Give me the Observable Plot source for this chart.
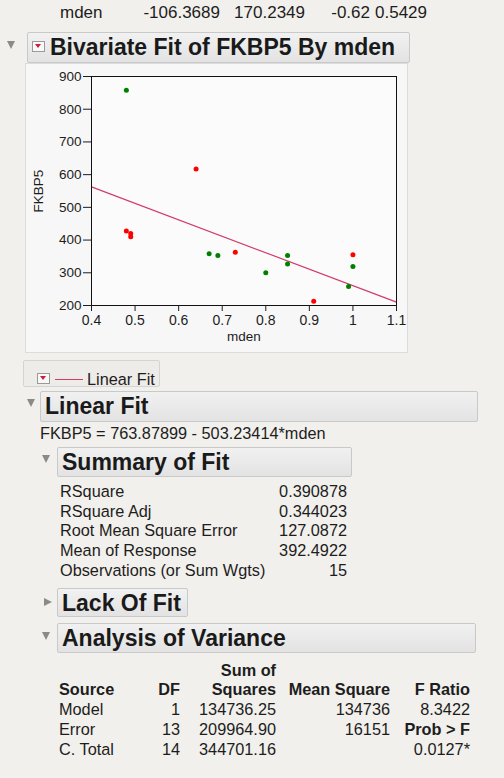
<!DOCTYPE html>
<html>
<head>
<meta charset="utf-8">
<script src="https://cdn.jsdelivr.net/npm/d3@7"></script>
<script src="https://cdn.jsdelivr.net/npm/@observablehq/plot@0.6"></script>
<style>
  html, body { margin: 0; padding: 0; }
  body { width: 504px; height: 778px; background: #f2f0ec; position: relative; overflow: hidden;
         font-family: "Liberation Sans", Arial, Helvetica, sans-serif; color: #1d1d1d; }
  .abs { position: absolute; white-space: nowrap; }
  .hdr { position: absolute; box-sizing: border-box; border: 1px solid #c9c9c9; border-radius: 2px;
         background: linear-gradient(#f1f1f1, #e3e3e3); }
  .hdr span { position: absolute; font-weight: bold; font-size: 23px; line-height: 1; top: 3px; left: 4px; color: #1a1a1a; }
  .tri { position: absolute; width: 0; height: 0; }
  .down { border-left: 4px solid transparent; border-right: 4px solid transparent; border-top: 8px solid #8a8a8a; }
  .right { border-top: 4px solid transparent; border-bottom: 4px solid transparent; border-left: 8px solid #8a8a8a; }
  .menu { position: absolute; width: 13px; height: 11px; box-sizing: border-box; border: 1px solid #9a9a9a;
          background: #f8f8f8; }
  .menu::after { content: ""; position: absolute; left: 2px; top: 2px; border-left: 3.5px solid transparent;
          border-right: 3.5px solid transparent; border-top: 4px solid #d01c3c; }
  .t { position: absolute; font-size: 16.3px; line-height: 1; white-space: nowrap; }
  .r { text-align: right; }
  .b { font-weight: bold; }
  #panel { position: absolute; left: 25px; top: 63px; width: 383px; height: 290px; box-sizing: border-box;
           border: 1px solid #dcdcdc; background: #f7f7f7; }
  #chart { position: absolute; left: 25px; top: 63px; }
</style>
</head>
<body>
<!-- top row (partially cut) -->
<div class="t" style="left:60px; top:4px; font-size:17px;">mden</div>
<div class="t r" style="left:120px; width:100px; top:4px; font-size:17px;">-106.3689</div>
<div class="t r" style="left:205px; width:100px; top:4px; font-size:17px;">170.2349</div>
<div class="t r" style="left:300px; width:70px; top:4px; font-size:17px;">-0.62</div>
<div class="t r" style="left:357px; width:70px; top:4px; font-size:17px;">0.5429</div>

<!-- Bivariate header -->
<div class="tri down" style="left:7px; top:41px;"></div>
<div class="hdr" style="left:27px; top:32px; width:383px; height:31px;"><span style="left:22px;">Bivariate Fit of FKBP5 By mden</span></div>
<div class="menu" style="left:32px; top:41px;"></div>

<div id="panel"></div>
<div id="chart"></div>

<!-- legend -->
<div class="hdr" style="left:23px; top:360px; width:137px; height:27px; background:#eeece9; border-color:#d4d4d4;"></div>
<div class="menu" style="left:37px; top:373px;"></div>
<div class="abs" style="left:55px; top:379px; width:28px; height:0; border-top:1.2px solid #d23c68;"></div>
<div class="t" style="left:87px; top:371px;">Linear Fit</div>

<!-- Linear Fit header -->
<div class="tri down" style="left:27px; top:399px;"></div>
<div class="hdr" style="left:40px; top:391px; width:438px; height:31px;"><span>Linear Fit</span></div>
<div class="t" style="left:40px; top:425px;">FKBP5 = 763.87899 - 503.23414*mden</div>

<!-- Summary of Fit -->
<div class="tri down" style="left:42px; top:455px;"></div>
<div class="hdr" style="left:57px; top:447px; width:295px; height:30px;"><span>Summary of Fit</span></div>
<div id="summary"></div>

<!-- Lack Of Fit -->
<div class="tri right" style="left:44px; top:598px;"></div>
<div class="hdr" style="left:57px; top:588px; width:131px; height:29px;"><span>Lack Of Fit</span></div>

<!-- Analysis of Variance -->
<div class="tri down" style="left:42px; top:632px;"></div>
<div class="hdr" style="left:57px; top:623px; width:419px; height:30px;"><span>Analysis of Variance</span></div>
<div id="anova"></div>

<script>
// ---- scatter data ----
const mdenRed   = [0.64, 0.48, 0.49, 0.49, 0.73, 0.91, 1.00];
const fkbp5Red  = [617, 428, 420, 410, 363, 213, 355];
const mdenGreen = [0.48, 0.67, 0.69, 0.80, 0.85, 0.85, 0.99, 1.00];
const fkbp5Green= [858, 358, 353, 300, 353, 327, 258, 319];

// ---- fit coefficients ----
const intercept = 763.87899;
const slope = -503.23414;
const xDomain = [0.4, 1.1];
const yDomain = [200, 900];
const xTicks = [0.4, 0.5, 0.6, 0.7, 0.8, 0.9, 1.0, 1.1];
const yTicks = [200, 300, 400, 500, 600, 700, 800, 900];

// ---- summary of fit ----
const summaryLabels = ["RSquare", "RSquare Adj", "Root Mean Square Error", "Mean of Response", "Observations (or Sum Wgts)"];
const summaryValues = ["0.390878", "0.344023", "127.0872", "392.4922", "15"];

// ---- analysis of variance ----
const anovaSource = ["Model", "Error", "C. Total"];
const anovaDF = ["1", "13", "14"];
const anovaSS = ["134736.25", "209964.90", "344701.16"];
const anovaMS = ["134736", "16151", ""];
const anovaF = ["8.3422", "Prob > F", "0.0127*"];

const pts = [
  ...mdenRed.map((x, i) => ({x, y: fkbp5Red[i], g: "red"})),
  ...mdenGreen.map((x, i) => ({x, y: fkbp5Green[i], g: "green"}))
];
const fit = xDomain.map(x => ({x, y: intercept + slope * x}));

const chart = Plot.plot({
  width: 383, height: 290,
  marginLeft: 66, marginRight: 12, marginTop: 13, marginBottom: 48,
  style: {fontFamily: "Liberation Sans, Arial, sans-serif", fontSize: "13px", color: "#1d1d1d", background: "transparent"},
  x: {domain: xDomain, label: null},
  y: {domain: yDomain, label: null},
  color: {domain: ["red", "green"], range: ["#c4175c", "#168a58"]},
  marks: [
    Plot.frame({fill: "#fbfbfb"}),
    Plot.line(fit, {x: "x", y: "y", stroke: "#d23c68", strokeWidth: 1.2}),
    Plot.dot(pts, {x: "x", y: "y", fill: "g", r: 2.5}),
    Plot.frame({stroke: "#111", strokeWidth: 1}),
    Plot.axisX({ticks: xTicks, tickFormat: d => String(+d.toFixed(1)), tickSize: 6, tickPadding: 4, fontSize: 14, label: null}),
    Plot.axisY({ticks: yTicks, tickSize: 8, tickPadding: 2, fontSize: 13.5, label: null}),
    Plot.text(["mden"], {frameAnchor: "bottom", dy: 35, fontSize: 13.5}),
    Plot.text(["FKBP5"], {frameAnchor: "left", dx: -53, rotate: -90, textAnchor: "middle", fontSize: 13.5})
  ]
});
document.getElementById("chart").appendChild(chart);

// summary rows
const sEl = document.getElementById("summary");
summaryLabels.forEach((lab, i) => {
  const top = 483 + i * 19.7;
  sEl.insertAdjacentHTML("beforeend",
    `<div class="t" style="left:60px; top:${top}px;">${lab}</div>` +
    `<div class="t r" style="left:247px; width:100px; top:${top}px;">${summaryValues[i]}</div>`);
});

// anova table
const aEl = document.getElementById("anova");
aEl.insertAdjacentHTML("beforeend",
  `<div class="t r b" style="left:176px; width:100px; top:662px;">Sum of</div>` +
  `<div class="t b" style="left:59px; top:681px;">Source</div>` +
  `<div class="t r b" style="left:140px; width:40px; top:681px;">DF</div>` +
  `<div class="t r b" style="left:176px; width:100px; top:681px;">Squares</div>` +
  `<div class="t r b" style="left:270px; width:120px; top:681px;">Mean Square</div>` +
  `<div class="t r b" style="left:390px; width:80px; top:681px;">F Ratio</div>`);
anovaSource.forEach((s, i) => {
  const top = 701 + i * 20;
  const fBold = anovaF[i] === "Prob > F" ? " b" : "";
  aEl.insertAdjacentHTML("beforeend",
    `<div class="t" style="left:59px; top:${top}px;">${s}</div>` +
    `<div class="t r" style="left:140px; width:40px; top:${top}px;">${anovaDF[i]}</div>` +
    `<div class="t r" style="left:176px; width:100px; top:${top}px;">${anovaSS[i]}</div>` +
    `<div class="t r" style="left:270px; width:120px; top:${top}px;">${anovaMS[i]}</div>` +
    `<div class="t r${fBold}" style="left:390px; width:80px; top:${top}px;">${anovaF[i]}</div>`);
});
</script>
</body>
</html>
